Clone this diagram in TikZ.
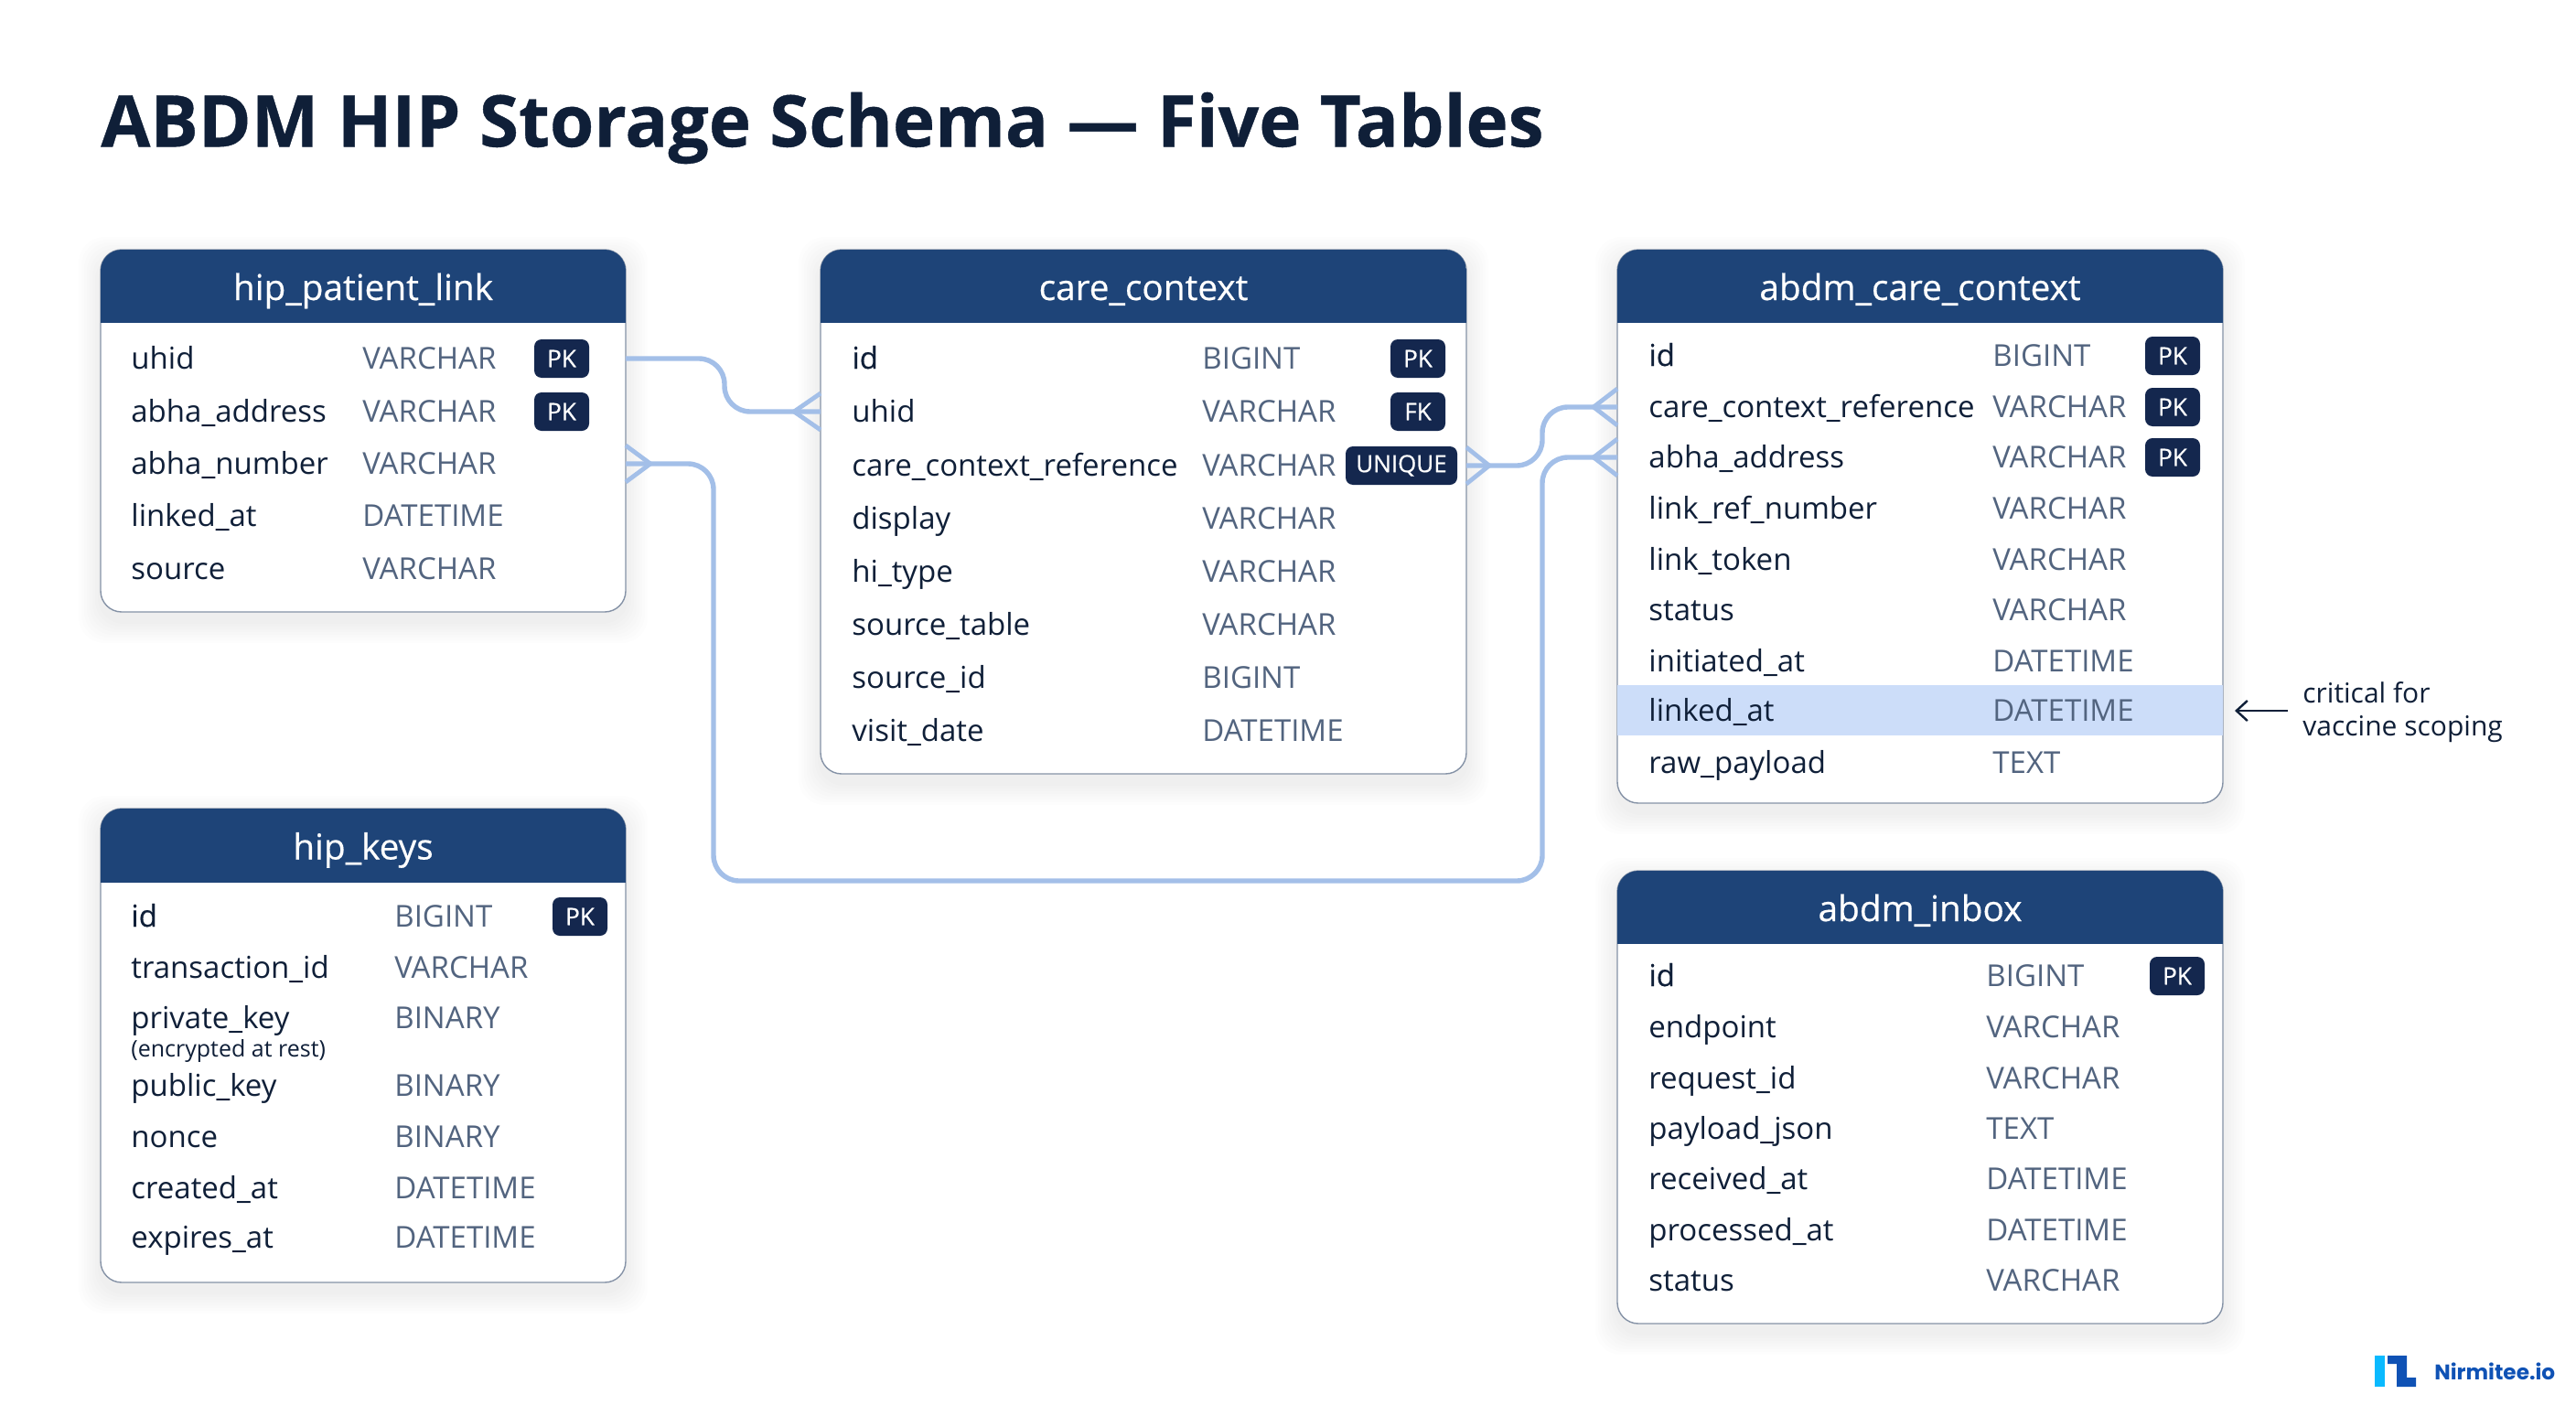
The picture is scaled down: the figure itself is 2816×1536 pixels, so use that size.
\documentclass[tikz,border=0pt]{standalone}
\usepackage{fontspec}
\setmainfont{Open Sans}
\newfontfamily\logofont{Poppins}
\newfontfamily\mediumfont[FakeBold=.45]{Open Sans}
\newfontfamily\titlefont[FakeBold=.5]{Open Sans Bold}
\usetikzlibrary{calc}
\usetikzlibrary{fit}
\usetikzlibrary{arrows.meta}

\definecolor{headblue}{HTML}{1E4478}
\definecolor{badgenavy}{HTML}{14274E}
\definecolor{inkdark}{HTML}{0F1F38}
\definecolor{typegray}{HTML}{52647F}
\definecolor{edgegray}{HTML}{8592A6}
\definecolor{linkblue}{HTML}{A3BFE8}
\definecolor{rowmark}{HTML}{CCDDF9}
\definecolor{logocyan}{HTML}{0ABAFF}
\definecolor{logoblue}{HTML}{0F52B5}

\tikzset{
  tablebody/.style={draw=edgegray, line width=.7pt, fill=white, rounded corners=11.5pt, inner sep=0pt, outer sep=0pt},
  tabletitle/.style={text=white, font=\mediumfont\fontsize{19.4}{23}\selectfont, inner sep=0pt, text height=19pt, text depth=4pt},
  fieldname/.style={anchor=west, text=inkdark, font=\fontsize{16.5}{20}\selectfont, inner sep=0pt, text height=14pt, text depth=3pt},
  fieldkey/.style={fieldname, font=\mediumfont\fontsize{16.5}{20}\selectfont},
  fieldtype/.style={anchor=west, text=typegray, font=\fontsize{16.5}{20}\selectfont, inner sep=0pt, text height=14pt, text depth=3pt},
  badge/.style={fill=badgenavy, text=white, font=\mediumfont\fontsize{13}{15}\selectfont, rounded corners=4pt, minimum width=30pt, minimum height=21pt, inner sep=0pt},
  link/.style={draw=linkblue, line width=2.7pt, rounded corners=14pt},
  footline/.style={draw=linkblue, line width=2.4pt, line join=miter}
}

%─────────────
% One table: node, x1, y1, x2, y2, header bottom, title
%─────────────
\newcommand{\dbTable}[7]{%
  \foreach \s in {1,...,8} {
    \fill[black, opacity=.009, rounded corners=14pt] ({#2-3*\s},{#3+10-3*\s}) rectangle ({#4+3*\s},{#5+10+3*\s});
  }
  \node[tablebody, fit={(#2,#3)(#4,#5)}] (#1) {};
  \begin{scope}
    \clip[rounded corners=11.5pt] (#2,#3) rectangle (#4,#5);
    \fill[headblue] (#2,#3) rectangle (#4,#6);
  \end{scope}
  \node[tabletitle] (#1Title) at ({(#2+#4)/2},{(#3+#6)/2}) {#7};
}

% Crow's foot on a table side: edge point, signed depth
\newcommand{\crowFoot}[2]{%
  \draw[footline] ($(#1)+(0,-20)$) -- ($(#1)+(#2,0)$) -- ($(#1)+(0,20)$);
}

\begin{document}
\begin{tikzpicture}[x=.5pt,y=-.5pt]

\path[fill=white, use as bounding box] (0,0) rectangle (2816,1536);

\node[anchor=west, inner sep=0pt, text=inkdark, font=\titlefont\fontsize{39.1}{45}\selectfont] (pageTitle) at (110,140) {ABDM HIP Storage Schema — Five Tables};

%─────────────
% hip_patient_link
%─────────────
\dbTable{hpl}{110}{273}{684}{669}{353}{hip\_patient\_link}
\foreach \key/\field/\ftype/\ypos in {hplUhid/uhid/VARCHAR/392, hplAddr/abha\_address/VARCHAR/450, hplNum/abha\_number/VARCHAR/507, hplLinked/linked\_at/DATETIME/564, hplSource/source/VARCHAR/622} {
  \node[fieldname] (\key) at (143,\ypos) {\field};
  \node[fieldtype] (\key Type) at (396,\ypos) {\ftype};
}
\node[badge] (hplBadgeA) at (614,392) {PK};
\node[badge] (hplBadgeB) at (614,450) {PK};

%─────────────
% care_context
%─────────────
\dbTable{cc}{897}{273}{1603}{846}{353}{care\_context}
\foreach \key/\field/\ftype/\ypos in {ccUhid/uhid/VARCHAR/450, ccRef/care\_context\_reference/VARCHAR/509, ccDisplay/display/VARCHAR/567, ccHi/hi\_type/VARCHAR/625, ccTable/source\_table/VARCHAR/683, ccSource/source\_id/BIGINT/741, ccVisit/visit\_date/DATETIME/799} {
  \node[fieldname] (\key) at (931,\ypos) {\field};
  \node[fieldtype] (\key Type) at (1314,\ypos) {\ftype};
}
\node[fieldkey] (ccId) at (931,392) {id};
\node[fieldtype] (ccIdType) at (1314,392) {BIGINT};
\node[badge] (ccBadgeA) at (1550,392) {PK};
\node[badge] (ccBadgeB) at (1550,450) {FK};
\node[badge, minimum width=61pt] (ccBadgeC) at (1532,509) {UNIQUE};

%─────────────
% abdm_care_context
%─────────────
\dbTable{acc}{1768}{273}{2430}{878}{353}{abdm\_care\_context}
\fill[rowmark] (acc.west |- 0,749) rectangle (acc.east |- 0,804);
\foreach \key/\field/\ftype/\ypos in {accRef/care\_context\_reference/VARCHAR/445, accAddr/abha\_address/VARCHAR/500, accLink/link\_ref\_number/VARCHAR/556, accToken/link\_token/VARCHAR/612, accStatus/status/VARCHAR/667, accInit/initiated\_at/DATETIME/723, accLinked/linked\_at/DATETIME/777, accRaw/raw\_payload/TEXT/834} {
  \node[fieldname] (\key) at (1802,\ypos) {\field};
  \node[fieldtype] (\key Type) at (2178,\ypos) {\ftype};
}
\node[fieldkey] (accId) at (1802,389) {id};
\node[fieldtype] (accIdType) at (2178,389) {BIGINT};
\node[badge] (accBadgeA) at (2375,389) {PK};
\node[badge] (accBadgeB) at (2375,445) {PK};
\node[badge] (accBadgeC) at (2375,500) {PK};

%─────────────
% hip_keys
%─────────────
\dbTable{keys}{110}{884}{684}{1402}{965}{hip\_keys}
\foreach \key/\field/\ftype/\ypos in {keysTxn/transaction\_id/VARCHAR/1058, keysPriv/private\_key/BINARY/1113, keysPub/public\_key/BINARY/1187, keysNonce/nonce/BINARY/1243, keysCreated/created\_at/DATETIME/1299, keysExpires/expires\_at/DATETIME/1353} {
  \node[fieldname] (\key) at (143,\ypos) {\field};
  \node[fieldtype] (\key Type) at (431,\ypos) {\ftype};
}
\node[fieldkey] (keysId) at (143,1002) {id};
\node[fieldtype] (keysIdType) at (431,1002) {BIGINT};
\node[fieldname, font=\fontsize{12.5}{15}\selectfont] (keysNote) at (143,1144) {(encrypted at rest)};
\node[badge] (keysBadge) at (634,1002) {PK};

%─────────────
% abdm_inbox
%─────────────
\dbTable{inbox}{1768}{952}{2430}{1447}{1032}{abdm\_inbox}
\foreach \key/\field/\ftype/\ypos in {inboxEnd/endpoint/VARCHAR/1123, inboxReq/request\_id/VARCHAR/1179, inboxJson/payload\_json/TEXT/1234, inboxRecv/received\_at/DATETIME/1289, inboxProc/processed\_at/DATETIME/1345, inboxStatus/status/VARCHAR/1400} {
  \node[fieldname] (\key) at (1802,\ypos) {\field};
  \node[fieldtype] (\key Type) at (2171,\ypos) {\ftype};
}
\node[fieldkey] (inboxId) at (1802,1067) {id};
\node[fieldtype] (inboxIdType) at (2171,1067) {BIGINT};
\node[badge] (inboxBadge) at (2380,1067) {PK};

%─────────────
% Connectors
%─────────────
\coordinate (busLeft) at (780,963);
\coordinate (busRight) at (1686,963);

\draw[link] (hpl.east |- hplUhid) -- ++(108,0) |- (cc.west |- ccUhid);
\draw[link] (hpl.east |- hplNum) -| (busLeft) -- (busRight) |- (acc.west |- accAddr);
\draw[link] (cc.east |- ccRef) -- ++(83,0) |- (acc.west |- accRef);

\crowFoot{cc.west |- ccUhid}{-29}
\crowFoot{hpl.east |- hplNum}{27}
\crowFoot{cc.east |- ccRef}{25}
\crowFoot{acc.west |- accRef}{-26}
\crowFoot{acc.west |- accAddr}{-26}

%─────────────
% Side note
%─────────────
\node[anchor=west, align=left, inner sep=0pt, text=inkdark, font=\fontsize{15}{18}\selectfont] (scopeNote) at (2517,779) {critical for\\vaccine scoping};
\draw[{Straight Barb[length=6pt,width=11pt]}-, draw=inkdark, line width=1.2pt, shorten <=6.5pt, shorten >=8pt] (acc.east |- accLinked) -- (scopeNote.west |- accLinked);

%─────────────
% Logo
%─────────────
\fill[logocyan] (2596,1482) rectangle (2607,1516);
\fill[logoblue] (2610,1482) -- (2631,1482) -- (2631,1506) -- (2641,1506) -- (2641,1516) -- (2620,1516) -- (2620,1491) -- (2610,1491) -- cycle;
\node[anchor=west, inner sep=0pt, text=logoblue, font=\logofont\fontsize{11.6}{13}\selectfont\bfseries] (logoText) at (2661,1499) {Nirmitee.io};

\end{tikzpicture}
\end{document}
